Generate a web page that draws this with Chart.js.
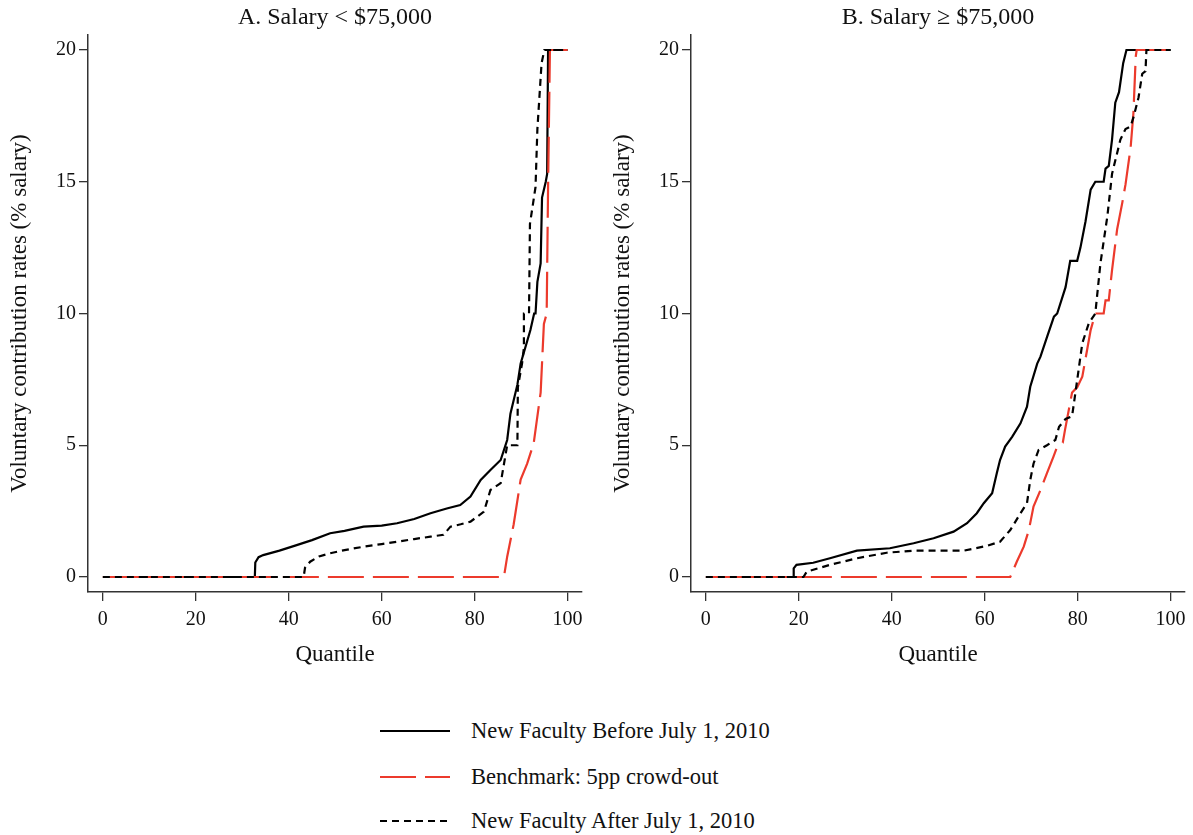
<!DOCTYPE html>
<html><head><meta charset="utf-8">
<script src="https://cdn.jsdelivr.net/npm/chart.js@4.4.0/dist/chart.umd.min.js"></script>
<style>
html,body{margin:0;padding:0;background:#fff;width:1193px;height:835px;overflow:hidden;font-family:"Liberation Serif",serif}
#ca{position:absolute;left:0;top:0}
#cb{position:absolute;left:603px;top:0}
#legend{position:absolute;left:380px;top:716px}
.row{position:absolute;left:0;height:30px;width:440px;white-space:nowrap}
.row svg{position:absolute;left:0;top:0}
.row span{position:absolute;left:91px;top:0;line-height:30px;font-size:22.5px;color:#111}
</style></head>
<body>
<canvas id="ca" width="590" height="680"></canvas>
<canvas id="cb" width="590" height="680"></canvas>
<div id="legend"></div>
<script>
// ---------- data ----------
const panelTitles = ['A. Salary < $75,000', 'B. Salary \u2265 $75,000'];
const seriesNames = ['New Faculty Before July 1, 2010', 'Benchmark: 5pp crowd-out', 'New Faculty After July 1, 2010'];
const xTickValues = [0, 20, 40, 60, 80, 100];
const yTickValues = [0, 5, 10, 15, 20];
const xTitle = 'Quantile';
const yTitle = 'Voluntary contribution rates (% salary)';

// Panel A: Salary < $75,000
const aBeforeQ = [0, 32.7, 32.8, 33.5, 34.5, 38, 41.7, 45, 48.9, 52, 56.1, 60, 63.3, 67, 70.5, 74, 76.9, 79.1, 81.3, 83.4, 85.6, 87.0, 87.7, 89.2, 89.9, 92.0, 92.8, 93.1, 93.5, 94.2, 94.5, 95.3, 95.6, 95.8, 100];
const aBeforeV = [0, 0, 0.55, 0.75, 0.83, 1.0, 1.21, 1.4, 1.66, 1.75, 1.91, 1.95, 2.04, 2.2, 2.42, 2.6, 2.73, 3.05, 3.68, 4.06, 4.44, 5.2, 6.2, 7.3, 8.1, 9.37, 10.0, 10.0, 11.2, 11.9, 14.4, 15.0, 15.3, 20, 20];
const aBenchQ = [0, 86.3, 87.0, 88.4, 89.9, 91.3, 92.7, 94.2, 94.9, 95.5, 95.8, 96.2, 100];
const aBenchV = [0, 0, 0.77, 2.0, 3.7, 4.3, 5.07, 7.0, 9.6, 10.0, 14.8, 20, 20];
const aAfterQ = [0, 43.2, 43.5, 44.6, 46.5, 48.9, 52, 56.1, 60, 63.3, 67, 70.5, 73.3, 74.8, 77, 79.1, 82.0, 83.4, 85.6, 87.0, 89.2, 89.3, 90.2, 90.6, 90.6, 91.7, 91.9, 93.1, 93.5, 94.4, 95.0, 100];
const aAfterV = [0, 0, 0.35, 0.58, 0.78, 0.9, 1.02, 1.15, 1.25, 1.34, 1.44, 1.53, 1.6, 1.91, 2.0, 2.1, 2.48, 3.3, 3.56, 5.0, 5.0, 7.2, 8.1, 8.7, 10.0, 10.0, 13.4, 14.8, 17.0, 19.5, 20, 20];

// Panel B: Salary >= $75,000
const bBeforeQ = [0, 18.8, 18.9, 19.5, 23.1, 26.7, 32.5, 39.6, 44.7, 49.0, 53.3, 56.2, 58.3, 59.8, 61.6, 62.6, 63.3, 64.4, 65.9, 67.7, 69.1, 69.8, 71.3, 72.0, 73.4, 74.9, 75.6, 77.4, 78.4, 79.9, 80.6, 81.7, 82.8, 83.8, 85.6, 86.0, 86.7, 87.4, 88.1, 88.9, 89.8, 90.5, 100];
const bBeforeV = [0, 0, 0.33, 0.46, 0.54, 0.71, 1.0, 1.09, 1.28, 1.47, 1.72, 2.04, 2.42, 2.8, 3.18, 3.94, 4.44, 4.95, 5.32, 5.83, 6.46, 7.22, 8.1, 8.36, 9.1, 9.88, 10.0, 11.0, 12.0, 12.0, 12.5, 13.5, 14.7, 15.0, 15.0, 15.5, 15.6, 16.6, 18.0, 18.4, 19.5, 20, 20];
const bBenchQ = [0, 65.5, 66.9, 68.4, 69.5, 70.5, 72.0, 73.4, 74.8, 75.6, 76.8, 77.3, 78.8, 79.9, 81.0, 82.8, 83.8, 85.6, 86.0, 86.7, 87.4, 88.5, 89.6, 90.3, 91.4, 92.0, 92.5, 92.7, 100];
const bBenchV = [0, 0, 0.58, 1.15, 1.78, 2.67, 3.3, 3.94, 4.57, 4.95, 5.1, 5.6, 7.0, 7.2, 7.6, 9.37, 10.0, 10.0, 10.5, 10.5, 11.65, 13.2, 14.2, 14.9, 16.3, 17.6, 19.75, 20, 20];
const bAfterQ = [0, 21.0, 21.7, 26.7, 32.5, 38.9, 44.7, 55.5, 60.5, 63.3, 65.5, 67.7, 69.1, 69.8, 70.5, 71.6, 73.4, 75.2, 76.0, 77.4, 78.8, 79.5, 81.0, 82.4, 83.8, 84.9, 86.4, 87.4, 89.2, 90.3, 91.4, 92.1, 93.1, 93.9, 94.6, 94.8, 100];
const bAfterV = [0, 0, 0.2, 0.46, 0.71, 0.92, 1.0, 1.0, 1.18, 1.34, 1.78, 2.42, 2.8, 3.68, 4.3, 4.82, 5.0, 5.2, 5.7, 6.0, 6.1, 6.97, 8.87, 9.63, 10.0, 11.9, 13.7, 15.3, 16.6, 17.0, 17.1, 17.5, 18.2, 19.1, 19.2, 20, 20];

// ---------- styling ----------
const FONT = '"Liberation Serif", "DejaVu Serif", serif';
const TXT = '#111';
const AX = '#333';
const RED = 'rgb(236,58,44)';
const styles = [
  {color: '#000', dash: [], width: 2.2, order: 2},
  {color: RED, dash: [36, 9], width: 2.2, order: 1},
  {color: '#000', dash: [7, 5], width: 2.2, order: 0}
];

function pts(q, v) { return q.map((x, i) => ({x: x, y: v[i]})); }

function makeDatasets(pairs) {
  return pairs.map((p, i) => ({
    label: seriesNames[i],
    data: pts(p[0], p[1]),
    borderColor: styles[i].color,
    borderDash: styles[i].dash,
    borderWidth: styles[i].width,
    order: styles[i].order,
    pointRadius: 0,
    tension: 0,
    fill: false,
    borderCapStyle: 'butt',
    borderJoinStyle: 'miter'
  }));
}

function makeChart(id, title, pairs) {
  return new Chart(document.getElementById(id), {
    type: 'line',
    data: {datasets: makeDatasets(pairs)},
    options: {
      responsive: false, animation: false, devicePixelRatio: 1,
      layout: {padding: {left: 0, right: 8, top: 0, bottom: 0}},
      plugins: {
        legend: {display: false}, tooltip: {enabled: false},
        title: {display: true, text: title, fullSize: false, color: TXT,
                font: {family: FONT, size: 24, weight: 'normal'}, padding: {top: 3.5, bottom: 2.7}}
      },
      scales: {
        x: {
          type: 'linear', min: -3.2, max: 103.1,
          afterBuildTicks: s => { s.ticks = xTickValues.map(v => ({value: v})); },
          afterFit: s => { s.height = 88; },
          grid: {drawOnChartArea: false, drawTicks: true, tickLength: 9, color: AX, lineWidth: 1.3},
          border: {display: true, color: AX, width: 1.5},
          ticks: {color: TXT, font: {family: FONT, size: 20}, padding: 7, maxRotation: 0, autoSkip: false},
          title: {display: true, text: xTitle, color: TXT, font: {family: FONT, size: 23}, padding: {top: 0, bottom: 11.2}}
        },
        y: {
          type: 'linear', min: -0.57, max: 20.57,
          afterBuildTicks: s => { s.ticks = yTickValues.map(v => ({value: v})); },
          afterFit: s => { s.width = 88; },
          grid: {drawOnChartArea: false, drawTicks: true, tickLength: 9, color: AX, lineWidth: 1.3},
          border: {display: true, color: AX, width: 1.5},
          ticks: {color: TXT, font: {family: FONT, size: 20}, padding: 3, autoSkip: false},
          title: {display: true, text: yTitle, color: TXT, font: {family: FONT, size: 23}, padding: {top: 6.2, bottom: 0}}
        }
      }
    }
  });
}

makeChart('ca', panelTitles[0], [[aBeforeQ, aBeforeV], [aBenchQ, aBenchV], [aAfterQ, aAfterV]]);
makeChart('cb', panelTitles[1], [[bBeforeQ, bBeforeV], [bBenchQ, bBenchV], [bAfterQ, bAfterV]]);

// ---------- legend ----------
const legendRowTops = [0, 46, 90];
const leg = document.getElementById('legend');
seriesNames.forEach((name, i) => {
  const row = document.createElement('div');
  row.className = 'row';
  row.style.top = legendRowTops[i] + 'px';
  const st = styles[i];
  row.innerHTML = '<svg width="72" height="30"><line x1="0" y1="15" x2="70" y2="15" stroke="' + st.color +
    '" stroke-width="' + st.width + '" stroke-dasharray="' + (st.dash.length ? st.dash.join(',') : 'none') +
    '"/></svg><span></span>';
  row.querySelector('span').textContent = name;
  leg.appendChild(row);
});
</script>
</body></html>
